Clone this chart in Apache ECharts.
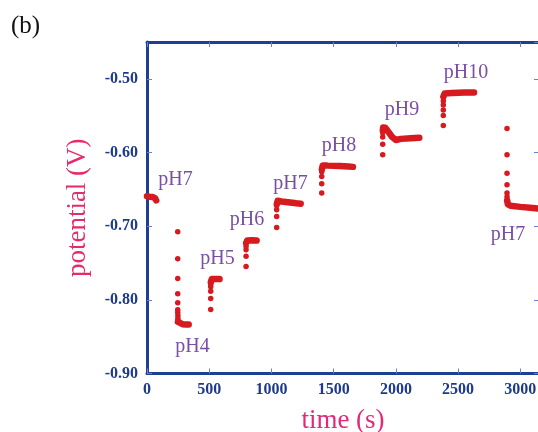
<!DOCTYPE html>
<html>
<head>
<meta charset="utf-8">
<script src="https://cdn.jsdelivr.net/npm/echarts@6/dist/echarts.min.js"></script>
<style>
html,body{margin:0;padding:0;background:#fff;}
#chart{width:538px;height:432px;}
</style>
</head>
<body>
<div id="chart"></div>
<script>
// ---- data: time (s) and potential (V) ----
const xTicks = [0, 500, 1000, 1500, 2000, 2500, 3000];
const yTicks = [-0.90, -0.80, -0.70, -0.60, -0.50];

// settled (dense) parts of each step
const plateau_pH7a = [[0,-0.6595],[20,-0.6600],[45,-0.6605],[65,-0.6620],[74,-0.6650]];
const plateau_pH4  = [[249,-0.8300],[258,-0.8325],[285,-0.8330],[315,-0.8335],[335,-0.8335]];
const plateau_pH5  = [[513,-0.7760],[520,-0.7718],[545,-0.7716],[583,-0.7718]];
const plateau_pH6  = [[797,-0.7225],[805,-0.7195],[840,-0.7192],[881,-0.7195]];
const plateau_pH7b = [[1043,-0.6700],[1050,-0.6655],[1080,-0.6665],[1150,-0.6680],[1200,-0.6690],[1235,-0.6695]];
const plateau_pH8  = [[1405,-0.6230],[1412,-0.6175],[1450,-0.6178],[1550,-0.6182],[1620,-0.6190],[1655,-0.6195]];
const plateau_pH9  = [[1895,-0.5700],[1898,-0.5660],[1915,-0.5665],[1940,-0.5720],[1970,-0.5790],[2000,-0.5830],[2040,-0.5815],[2120,-0.5805],[2188,-0.5800]];
const plateau_pH10 = [[2382,-0.5240],[2392,-0.5198],[2450,-0.5192],[2550,-0.5187],[2628,-0.5186]];
const plateau_pH7c = [[2894,-0.6650],[2900,-0.6705],[2920,-0.6722],[3000,-0.6738],[3100,-0.6752],[3150,-0.6760]];

// transient points right after each pH change
const dots_pH4  = [[247,-0.7075],[247,-0.7441],[247,-0.7712],[247,-0.7916],[247,-0.8038],[247,-0.8133],[247,-0.8173],[248,-0.8214],[248,-0.8254],[248,-0.8282]];
const dots_pH5  = [[512,-0.8132],[512,-0.7983],[512,-0.7884],[512,-0.7824],[512,-0.7790],[513,-0.7760]];
const dots_pH6  = [[796,-0.7546],[796,-0.7410],[796,-0.7319],[796,-0.7274],[796,-0.7231]];
const dots_pH7b = [[1042,-0.7017],[1042,-0.6868],[1042,-0.6777],[1042,-0.6723]];
const dots_pH8  = [[1404,-0.6551],[1404,-0.6425],[1404,-0.6326],[1404,-0.6262],[1405,-0.6221]];
const dots_pH9  = [[1894,-0.6032],[1894,-0.5887],[1894,-0.5788],[1894,-0.5733]];
const dots_pH10 = [[2381,-0.5634],[2381,-0.5499],[2381,-0.5422],[2381,-0.5354],[2381,-0.5300],[2382,-0.5252]];
const dots_pH7c = [[2893,-0.5675],[2893,-0.6032],[2893,-0.6280],[2893,-0.6438],[2893,-0.6551],[2893,-0.6600],[2893,-0.6650]];

// pH annotations (anchor in data coordinates)
const labelNames = ['pH7','pH4','pH5','pH6','pH7','pH8','pH9','pH10','pH7'];
const labelT = [229, 366, 567, 804, 1153, 1543, 2049, 2564, 2901];
const labelV = [-0.6343, -0.8607, -0.7414, -0.6885, -0.6398, -0.5882, -0.5395, -0.4893, -0.7089];

// ---- styling ----
const RED = '#d71920';
const AXIS = '#1c3f94';
const TICK = '#6384c8';
const LABEL = '#1e3a8a';
const SERIF = '"Liberation Serif","Times New Roman",serif';

const plateaus = [plateau_pH7a, plateau_pH4, plateau_pH5, plateau_pH6, plateau_pH7b, plateau_pH8, plateau_pH9, plateau_pH10, plateau_pH7c];
const dots = [].concat(dots_pH4, dots_pH5, dots_pH6, dots_pH7b, dots_pH8, dots_pH9, dots_pH10, dots_pH7c);

const series = [];
plateaus.forEach(function (p) {
  series.push({
    type: 'line', data: p, showSymbol: false, symbol: 'none', smooth: false,
    lineStyle: { color: RED, width: 6.5, cap: 'round', join: 'round', opacity: 1 },
    silent: true, animation: false, z: 3
  });
});
series.push({
  type: 'scatter', data: dots, symbolSize: 5.5,
  itemStyle: { color: RED, opacity: 1 }, silent: true, animation: false, z: 4
});
series.push({
  type: 'scatter',
  data: labelNames.map(function (n, i) { return { name: n, value: [labelT[i], labelV[i]] }; }),
  symbolSize: 1, itemStyle: { color: '#ffffff', opacity: 0 },
  label: { show: true, position: 'inside', offset: [0, 2], formatter: '{b}', color: '#7a4ea4', opacity: 1, fontFamily: SERIF, fontSize: 20 },
  silent: true, animation: false, z: 5
});

function fmtY(v) {
  for (var i = 0; i < yTicks.length; i++) if (Math.abs(v - yTicks[i]) < 1e-6) return yTicks[i].toFixed(2);
  return '';
}
function fmtX(v) {
  for (var i = 0; i < xTicks.length; i++) if (Math.abs(v - xTicks[i]) < 1e-6) return String(xTicks[i]);
  return '';
}

const axisLine = { show: true, onZero: false, lineStyle: { color: AXIS, width: 3 } };
const axisTick = { show: true, inside: true, length: 5, lineStyle: { color: TICK, width: 1 } };

const chart = echarts.init(document.getElementById('chart'), null, { renderer: 'canvas' });
chart.setOption({
  animation: false,
  backgroundColor: '#ffffff',
  grid: { left: 147, right: -1, top: 42, bottom: 58.5, containLabel: false, outerBoundsMode: 'none' },
  xAxis: [{
    type: 'value', position: 'bottom', min: 0, max: 3150, interval: 500,
    axisLine: axisLine, axisTick: axisTick, splitLine: { show: false },
    axisLabel: { show: true, margin: 8, color: LABEL, fontFamily: SERIF, fontWeight: 'bold', fontSize: 16, formatter: fmtX, showMaxLabel: false },
    name: 'time (s)', nameLocation: 'middle', nameGap: 34,
    nameTextStyle: { color: '#e4287a', fontFamily: SERIF, fontSize: 27 }
  }, {
    type: 'value', position: 'top', min: 0, max: 3150, interval: 500,
    axisLine: axisLine, axisTick: axisTick, splitLine: { show: false },
    axisLabel: { show: false }
  }],
  yAxis: [{
    type: 'value', position: 'left', min: -0.90, max: -0.45, interval: 0.1,
    axisLine: axisLine, axisTick: axisTick, splitLine: { show: false },
    axisLabel: { show: true, margin: 9, color: LABEL, fontFamily: SERIF, fontWeight: 'bold', fontSize: 16, formatter: fmtY, showMaxLabel: false },
    name: 'potential (V)', nameLocation: 'middle', nameGap: 56, nameRotate: 90,
    nameTextStyle: { color: '#e62a6a', fontFamily: SERIF, fontSize: 27 }
  }, {
    type: 'value', position: 'right', min: -0.90, max: -0.45, interval: 0.1,
    axisLine: axisLine, axisTick: axisTick, splitLine: { show: false },
    axisLabel: { show: false }
  }],
  graphic: [{
    type: 'text', left: 11, top: 14,
    style: { text: '(b)', fill: '#111111', font: '25px ' + SERIF }
  }],
  series: series
});
</script>
</body>
</html>
